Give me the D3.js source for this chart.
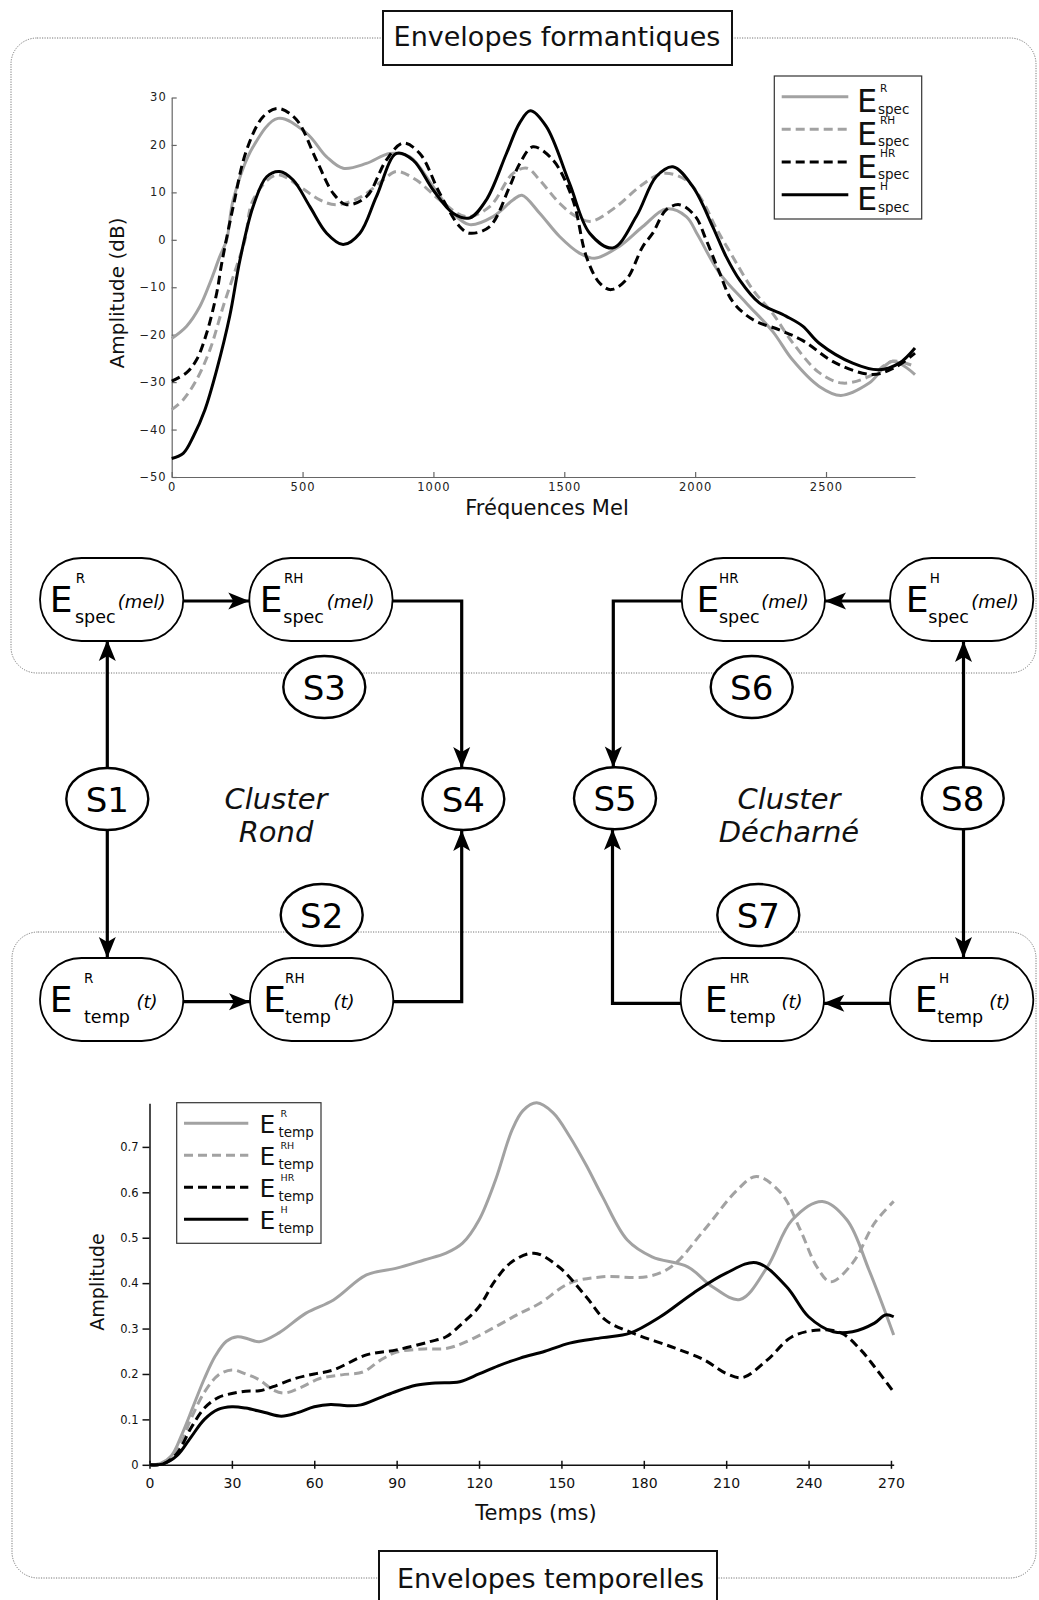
<!DOCTYPE html>
<html><head><meta charset="utf-8">
<script src="https://cdn.jsdelivr.net/npm/d3@7"></script>
<style>
body{margin:0;background:#fff;}
svg{display:block;font-family:"DejaVu Sans",sans-serif;}
</style></head><body>
<svg id="c" width="1039" height="1600"></svg>
<script>
// ---------------- DATA ----------------
// Spectral envelopes (Mel frequency vs amplitude dB)
const specLabels = ["R", "RH", "HR", "H"];
const melR  = [0,57,108,146,184,210,235,311,406,515,592,655,744,833,910,999,1075,1138,1228,1304,1338,1406,1482,1558,1616,1710,1800,1889,1966,2010,2093,2195,2296,2372,2474,2557,2665,2754,2840];
const dbR   = [-20.8,-18.2,-14,-9.1,-3.5,0,8.4,19.6,25.6,22.5,17.5,15.1,16.1,18.2,17.5,11.2,5.6,3.2,4.9,8.4,9.4,5.6,0.7,-2.8,-3.9,-1.4,2.8,6.5,4.9,1,-7,-13.3,-19.3,-25.3,-30.9,-32.8,-30.2,-25.6,-28.4];
const melRH = [0,44,95,146,197,248,280,311,400,490,566,630,725,808,859,935,1024,1126,1215,1304,1358,1406,1482,1546,1603,1699,1788,1876,1966,2030,2080,2143,2220,2296,2370,2474,2563,2665,2754,2840];
const dbRH  = [-35.8,-33.7,-29.5,-23.2,-14,-5.6,0,8.4,13.7,11.2,8.4,7.4,9.1,12.6,14.4,12.6,8.4,4.9,7,14,15.1,12.6,7.7,4.9,3.9,7,11.2,14,12.6,8,2.5,-3.5,-10.5,-15.5,-21.5,-28,-30.2,-28.8,-25.6,-26.7];
const melHR = [0,57,95,134,172,191,235,286,350,406,477,553,617,668,744,820,884,948,1024,1100,1138,1215,1291,1330,1380,1457,1533,1584,1635,1679,1737,1800,1838,1889,1940,2000,2042,2090,2143,2220,2322,2410,2538,2678,2760,2840];
const dbHR  = [-29.8,-28,-25.3,-19.6,-11.2,-5,7,18.9,26,27.7,25.3,16.8,9.8,7.4,9.1,16.8,20.4,18.2,9.8,2.8,1.4,2.8,11.2,16.1,19.6,16.8,8.4,-3.5,-9.1,-10.5,-8.4,-1.4,1.4,6.3,7.4,5,0,-6.5,-13,-16.8,-19,-21.2,-26,-28.4,-27,-23.9];
const melH  = [0,44,83,127,172,222,261,311,363,413,464,528,592,655,719,782,859,922,999,1075,1138,1202,1279,1329,1370,1431,1520,1597,1686,1775,1851,1915,1991,2067,2118,2169,2245,2347,2411,2474,2602,2703,2780,2840];
const dbH   = [-46.1,-45,-41.4,-35.8,-27.4,-16,-4.2,7,13.3,14.4,12.6,7,1.4,-1,1.4,9.1,18.2,16.8,10.5,5.6,4.6,8.4,18.2,24.6,27.2,23.9,11.9,1.4,-1.7,4.9,13.3,15.4,11.2,2.8,-3.5,-8.4,-13.3,-16.1,-18.2,-21.8,-26,-27.4,-26,-22.8];
const melTicks = [0,500,1000,1500,2000,2500];
const dbTicks  = [-50,-40,-30,-20,-10,0,10,20,30];

// Temporal envelopes (ms vs amplitude)
const tR  = [0,4,8,12,16,20,24,28,32,36,40,47,57,67,79,90,100,108,114,120,126,132,136,141,147,153,159,165,174,183,196,205,215,225,234,245,254,262,271];
const aR  = [0,0.003,0.02,0.07,0.13,0.19,0.24,0.272,0.282,0.277,0.271,0.29,0.334,0.363,0.418,0.433,0.451,0.466,0.488,0.539,0.627,0.737,0.78,0.797,0.775,0.723,0.66,0.59,0.495,0.458,0.436,0.392,0.364,0.436,0.539,0.58,0.539,0.429,0.286];
const tRH = [0,5,10,15,20,25,30,35,40,45,49,55,62,70,78,84,90,100,108,115,126,135,142,153,165,181,190,202,214,221,230,237,243,248,256,264,271];
const aRH = [0,0.002,0.03,0.1,0.16,0.197,0.209,0.2,0.187,0.165,0.158,0.17,0.19,0.198,0.205,0.23,0.248,0.255,0.256,0.27,0.304,0.334,0.355,0.4,0.414,0.414,0.436,0.517,0.605,0.635,0.598,0.517,0.436,0.403,0.444,0.532,0.58];
const tHR = [0,5,10,15,20,25,30,35,40,45,53,60,67,79,90,102,108,114,120,126,132,140,149,159,166,176,190,202,210,216,225,234,244,252,259,264,271];
const aHR = [0,0.002,0.025,0.08,0.125,0.148,0.157,0.162,0.163,0.172,0.19,0.2,0.209,0.242,0.253,0.271,0.282,0.312,0.348,0.407,0.447,0.466,0.436,0.37,0.319,0.29,0.26,0.231,0.201,0.192,0.231,0.282,0.297,0.29,0.253,0.216,0.16];
const tH  = [0,5,10,15,20,25,30,35,42,48,54,60,66,72,77,84,90,97,104,113,120,127,135,144,153,165,175,186,198,210,221,232,240,249,256,264,268,271];
const aH  = [0,0.002,0.02,0.06,0.1,0.122,0.128,0.125,0.115,0.107,0.115,0.128,0.133,0.13,0.132,0.148,0.162,0.175,0.18,0.183,0.2,0.218,0.235,0.25,0.268,0.28,0.29,0.326,0.378,0.422,0.445,0.392,0.326,0.293,0.293,0.312,0.33,0.326];
const msTicks  = [0,30,60,90,120,150,180,210,240,270];
const ampTicks = [0,0.1,0.2,0.3,0.4,0.5,0.6,0.7];

// ---------------- STYLES ----------------
const GRAY = "#a2a2a2";
const styles = [
  {color: GRAY, dash: null},
  {color: GRAY, dash: "9,5"},
  {color: "#000", dash: "9,5"},
  {color: "#000", dash: null}
];
const specSeries = [[melR,dbR],[melRH,dbRH],[melHR,dbHR],[melH,dbH]];
const tempSeries = [[tR,aR],[tRH,aRH],[tHR,aHR],[tH,aH]];

const svg = d3.select("#c");
const curve = d3.curveCatmullRom.alpha(0.5);

// ---------------- FRAMES ----------------
svg.append("rect").attr("x",11).attr("y",38).attr("width",1025).attr("height",635).attr("rx",26)
  .attr("fill","none").attr("stroke","#777").attr("stroke-width",1).attr("stroke-dasharray","1.2,1.3");
svg.append("rect").attr("x",12).attr("y",932).attr("width",1024).attr("height",646).attr("rx",26)
  .attr("fill","none").attr("stroke","#777").attr("stroke-width",1).attr("stroke-dasharray","1.2,1.3");

function titleBox(x0,x1,y0,y1,txt,cx,base){
  svg.append("rect").attr("x",x0).attr("y",y0).attr("width",x1-x0).attr("height",y1-y0)
    .attr("fill","#fff").attr("stroke","#111").attr("stroke-width",2);
  svg.append("text").attr("x",cx).attr("y",base).attr("text-anchor","middle")
    .attr("font-size",27).attr("fill","#111").text(txt);
}
titleBox(383,732,11,65,"Envelopes formantiques",557,46);
titleBox(379,717,1551,1610,"Envelopes temporelles",550.5,1588);

// ---------------- TOP CHART ----------------
const xS = d3.scaleLinear().domain([0,2840]).range([171.7,915]);
const yS = d3.scaleLinear().domain([-50,30]).range([477,97.5]);

const gxT = svg.append("g").attr("transform",`translate(0,${yS(-50)})`)
  .call(d3.axisBottom(xS).tickValues(melTicks).tickSizeInner(-5).tickSizeOuter(0).tickPadding(5).tickFormat(d3.format("d")));
const gyT = svg.append("g").attr("transform",`translate(${xS(0)},0)`)
  .call(d3.axisLeft(yS).tickValues(dbTicks).tickSizeInner(-5).tickSizeOuter(0).tickPadding(5).tickFormat(d3.format("d")));
[gxT,gyT].forEach(g=>{
  g.select(".domain").attr("stroke","#666").attr("stroke-width",1.2);
  g.selectAll(".tick line").attr("stroke","#666").attr("stroke-width",1.2);
  g.selectAll(".tick text").attr("font-size",11.5).attr("letter-spacing","1px").attr("fill","#222")
   .attr("font-family","DejaVu Sans");
});
gyT.selectAll(".tick text").attr("dy","0.3em");
gxT.selectAll(".tick text").attr("dy","0.75em");

svg.append("text").attr("transform","translate(124,293) rotate(-90)").attr("text-anchor","middle")
  .attr("font-size",20).attr("fill","#111").text("Amplitude (dB)");
svg.append("text").attr("x",547).attr("y",515).attr("text-anchor","middle")
  .attr("font-size",21).attr("fill","#111").text("Fréquences Mel");

const lineT = d3.line().x(d=>xS(d[0])).y(d=>yS(d[1])).curve(curve);
specSeries.forEach((s,i)=>{
  const pts = s[0].map((m,k)=>[m,s[1][k]]);
  svg.append("path").attr("d",lineT(pts)).attr("fill","none")
    .attr("stroke",styles[i].color).attr("stroke-width",3)
    .attr("stroke-dasharray",styles[i].dash);
});

// top legend
svg.append("rect").attr("x",774.3).attr("y",76).attr("width",147.4).attr("height",143)
  .attr("fill","#fff").attr("stroke","#333").attr("stroke-width",1.2);
const legTopY = [96.7,129.3,162,194.7];
specLabels.forEach((lab,i)=>{
  const y = legTopY[i];
  svg.append("line").attr("x1",781.7).attr("x2",848.3).attr("y1",y).attr("y2",y)
    .attr("stroke",styles[i].color).attr("stroke-width",3).attr("stroke-dasharray",styles[i].dash);
  svg.append("text").attr("x",857).attr("y",y+15.5).attr("font-size",32).attr("fill","#111").text("E");
  svg.append("text").attr("x",880).attr("y",y-5).attr("font-size",10.5).attr("fill","#111").text(lab);
  svg.append("text").attr("x",878).attr("y",y+17).attr("font-size",13.5).attr("fill","#111").text("spec");
});

// ---------------- BOTTOM CHART ----------------
const xB = d3.scaleLinear().domain([0,271]).range([149.5,893.7]);
const yB = d3.scaleLinear().domain([0,0.796]).range([1464.8,1103.3]);

const gxB = svg.append("g").attr("transform",`translate(0,${yB(0)})`)
  .call(d3.axisBottom(xB).tickValues(msTicks).tickSizeInner(4).tickSizeOuter(0).tickPadding(9).tickFormat(d3.format("d")));
gxB.selectAll(".tick line").attr("y1",-4);
const gyB = svg.append("g").attr("transform",`translate(${xB(0)},0)`)
  .call(d3.axisLeft(yB).tickValues(ampTicks).tickSizeInner(7).tickSizeOuter(0).tickPadding(4)
    .tickFormat(d=> d===0 ? "0" : d3.format(".1f")(d)));
[gxB,gyB].forEach(g=>{
  g.select(".domain").attr("stroke","#111").attr("stroke-width",1.5);
  g.selectAll(".tick line").attr("stroke","#111").attr("stroke-width",1.5);
  g.selectAll(".tick text").attr("fill","#111").attr("font-family","DejaVu Sans");
});
gxB.selectAll(".tick text").attr("font-size",14);
gyB.selectAll(".tick text").attr("font-size",11.5);

svg.append("text").attr("transform","translate(104,1282) rotate(-90)").attr("text-anchor","middle")
  .attr("font-size",19).attr("fill","#111").text("Amplitude");
svg.append("text").attr("x",536).attr("y",1520).attr("text-anchor","middle")
  .attr("font-size",21).attr("fill","#111").text("Temps (ms)");

const lineB = d3.line().x(d=>xB(d[0])).y(d=>yB(d[1])).curve(curve);
tempSeries.forEach((s,i)=>{
  const pts = s[0].map((m,k)=>[m,s[1][k]]);
  svg.append("path").attr("d",lineB(pts)).attr("fill","none")
    .attr("stroke",styles[i].color).attr("stroke-width",3)
    .attr("stroke-dasharray",styles[i].dash);
});

// bottom legend
svg.append("rect").attr("x",176.7).attr("y",1102.7).attr("width",144.3).attr("height",140.6)
  .attr("fill","#fff").attr("stroke","#333").attr("stroke-width",1.2);
const legBotY = [1123.3,1155.3,1187.3,1219.3];
specLabels.forEach((lab,i)=>{
  const y = legBotY[i];
  svg.append("line").attr("x1",184).attr("x2",248.3).attr("y1",y).attr("y2",y)
    .attr("stroke",styles[i].color).attr("stroke-width",3).attr("stroke-dasharray",styles[i].dash);
  svg.append("text").attr("x",259.5).attr("y",y+10).attr("font-size",25).attr("fill","#111").text("E");
  svg.append("text").attr("x",280.5).attr("y",y-6).attr("font-size",9.5).attr("fill","#111").text(lab);
  svg.append("text").attr("x",278.5).attr("y",y+13.5).attr("font-size",13.5).attr("fill","#111").text("temp");
});

// ---------------- DIAGRAM ----------------
const defs = svg.append("defs");
defs.append("marker").attr("id","ah").attr("viewBox","-22 -10 24 20").attr("refX",0).attr("refY",0)
  .attr("markerWidth",24).attr("markerHeight",20).attr("markerUnits","userSpaceOnUse").attr("orient","auto")
  .append("path").attr("d","M0,0 L-21,-8.5 L-16,0 L-21,8.5 Z").attr("fill","#000");

const connectors = [
  [[183.3,601],[249.3,601]],
  [[392.7,601],[461.7,601],[461.7,768]],
  [[107.3,768],[107.3,640]],
  [[107.3,830],[107.3,958]],
  [[183.3,1001.7],[250,1001.7]],
  [[393.3,1001.7],[461.7,1001.7],[461.7,830]],
  [[890,601],[825,601]],
  [[681.7,601],[613.3,601],[613.3,767.5]],
  [[963.5,767.5],[963.5,641]],
  [[963.5,829],[963.5,958]],
  [[890,1003.3],[823.3,1003.3]],
  [[680.7,1003.3],[612.5,1003.3],[612.5,829]]
];
const pl = d3.line();
connectors.forEach(c=>{
  svg.append("path").attr("d",pl(c)).attr("fill","none").attr("stroke","#000")
    .attr("stroke-width",3.2).attr("stroke-linejoin","miter").attr("marker-end","url(#ah)");
});

const nodes = [
  {x:40,    y:558, sup:"R",  sub:"spec", tail:"(mel)", ex:13.3, supx:36.7, subx:36,   tx:79.3},
  {x:249.3, y:558, sup:"RH", sub:"spec", tail:"(mel)", ex:14,   supx:35.7, subx:35,   tx:79},
  {x:681.7, y:558, sup:"HR", sub:"spec", tail:"(mel)", ex:18.3, supx:38.3, subx:38.3, tx:81},
  {x:890,   y:558, sup:"H",  sub:"spec", tail:"(mel)", ex:19.3, supx:40.7, subx:39.3, tx:82.7},
  {x:40,    y:958, sup:"R",  sub:"temp", tail:"(t)",   ex:13.3, supx:45,   subx:45,   tx:98},
  {x:250,   y:958, sup:"RH", sub:"temp", tail:"(t)",   ex:16.7, supx:36,   subx:36,   tx:85},
  {x:680.7, y:958, sup:"HR", sub:"temp", tail:"(t)",   ex:27.6, supx:50,   subx:50,   tx:102.3},
  {x:890,   y:958, sup:"H",  sub:"temp", tail:"(t)",   ex:28.3, supx:50,   subx:48.3, tx:100.7}
];
nodes.forEach(n=>{
  const g = svg.append("g").attr("transform",`translate(${n.x},${n.y})`);
  g.append("rect").attr("width",143.3).attr("height",83).attr("rx",41.5).attr("ry",41.5)
    .attr("fill","#fff").attr("stroke","#000").attr("stroke-width",1.8);
  g.append("text").attr("x",n.ex-3.5).attr("y",54).attr("font-size",36).attr("fill","#000").text("E");
  g.append("text").attr("x",n.supx-1).attr("y",25).attr("font-size",13.5).attr("fill","#000").text(n.sup);
  g.append("text").attr("x",n.subx-1).attr("y",64.5).attr("font-size",17.5).attr("fill","#000").text(n.sub);
  g.append("text").attr("x",n.tx-1.5).attr("y",50).attr("font-size",18).attr("font-style","italic")
    .attr("fill","#000").text(n.tail);
});

const sNodes = [
  {t:"S1", x:107.3, y:799},
  {t:"S2", x:321.7, y:915},
  {t:"S3", x:324.3, y:687},
  {t:"S4", x:463.3, y:799},
  {t:"S5", x:615,   y:798.3},
  {t:"S6", x:751.7, y:687},
  {t:"S7", x:758.3, y:915},
  {t:"S8", x:962.7, y:798.3}
];
sNodes.forEach(s=>{
  svg.append("ellipse").attr("cx",s.x).attr("cy",s.y).attr("rx",41).attr("ry",31)
    .attr("fill","#fff").attr("stroke","#000").attr("stroke-width",2.4);
  svg.append("text").attr("x",s.x).attr("y",s.y+12.5).attr("text-anchor","middle")
    .attr("font-size",34).attr("fill","#000").text(s.t);
});

const clusters = [
  {lines:["Cluster","Rond"], x:276},
  {lines:["Cluster","Décharné"], x:789}
];
clusters.forEach(c=>{
  c.lines.forEach((l,i)=>{
    svg.append("text").attr("x",c.x).attr("y",809+i*32.5).attr("text-anchor","middle")
      .attr("font-size",29).attr("font-style","italic").attr("fill","#111").text(l);
  });
});
</script>
</body></html>
